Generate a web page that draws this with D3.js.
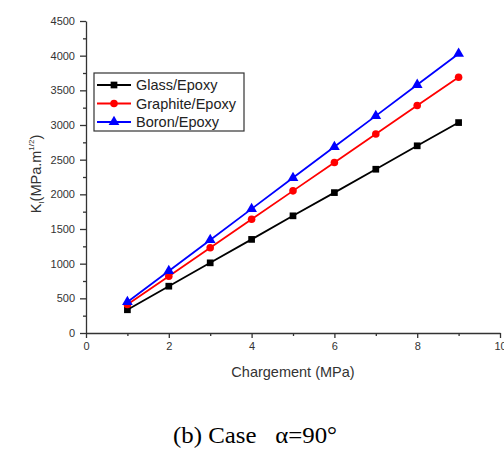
<!DOCTYPE html>
<html>
<head>
<meta charset="utf-8">
<script src="https://cdn.jsdelivr.net/npm/d3@7"></script>
<style>
  body { margin: 0; background: #fff; }
  svg { display: block; }
</style>
</head>
<body>
<svg width="504" height="458"></svg>
<script>
const loads = [1, 2, 3, 4, 5, 6, 7, 8, 9];
const glass = [335, 675, 1012, 1350, 1690, 2025, 2362, 2700, 3035];
const graphite = [410, 820, 1230, 1640, 2050, 2460, 2870, 3280, 3690];
const boron = [448, 895, 1342, 1790, 2238, 2685, 3132, 3580, 4028];
const seriesNames = ["Glass/Epoxy", "Graphite/Epoxy", "Boron/Epoxy"];
const xTicks = [0, 2, 4, 6, 8, 10];
const yTicks = [0, 500, 1000, 1500, 2000, 2500, 3000, 3500, 4000, 4500];

const series = [
  { name: seriesNames[0], values: glass, color: "#000", shape: d3.symbolSquare, size: 45 },
  { name: seriesNames[1], values: graphite, color: "#ff0000", shape: d3.symbolCircle, size: 45 },
  { name: seriesNames[2], values: boron, color: "#0000ff", shape: d3.symbolTriangle, size: 50 }
];

const plotLeft = 86, plotRight = 500, plotTop = 21, plotBottom = 333;
const svg = d3.select("svg");
const font = "'Liberation Sans', Arial, sans-serif";

var x = d3.scaleLinear().domain([0, 10]).range([plotLeft, plotRight]);
var y = d3.scaleLinear().domain([0, 4500]).range([plotBottom, plotTop]);

// minor ticks
svg.append("g")
  .attr("transform", "translate(0," + plotBottom + ")")
  .call(d3.axisBottom(x).tickValues(d3.range(1, 10, 2)).tickSize(3).tickFormat(""))
  .call(g => g.select(".domain").remove());
svg.append("g")
  .attr("transform", "translate(" + plotLeft + ",0)")
  .call(d3.axisLeft(y).tickValues(d3.range(250, 4500, 500)).tickSize(3).tickFormat(""))
  .call(g => g.select(".domain").remove());

// major axes
svg.append("g")
  .attr("transform", "translate(0," + plotBottom + ")")
  .call(d3.axisBottom(x).tickValues(xTicks).tickFormat(d3.format("d")).tickSize(5).tickSizeOuter(0).tickPadding(4));
svg.append("g")
  .attr("transform", "translate(" + plotLeft + ",0)")
  .call(d3.axisLeft(y).tickValues(yTicks).tickFormat(d3.format("d")).tickSize(6).tickSizeOuter(0).tickPadding(5));

svg.selectAll(".tick line, .domain").attr("stroke", "#333").attr("stroke-width", 1.3);
svg.selectAll(".tick text").attr("font-family", font).attr("font-size", 11).attr("fill", "#333");

// axis titles
svg.append("text")
  .attr("x", 293).attr("y", 377)
  .attr("text-anchor", "middle")
  .attr("font-family", font).attr("font-size", 14.5).attr("fill", "#333")
  .text("Chargement (MPa)");

var yl = svg.append("text")
  .attr("transform", "translate(41,174) rotate(-90)")
  .attr("text-anchor", "middle")
  .attr("font-family", font).attr("font-size", 14.5).attr("fill", "#333");
yl.append("tspan").text("K");
yl.append("tspan").attr("font-size", 8).attr("dy", 3).text("I");
yl.append("tspan").attr("dy", -3).text("(MPa.m");
yl.append("tspan").attr("font-size", 8).attr("dy", -7).text("1/2");
yl.append("tspan").attr("dy", 7).text(")");

// lines and markers
var line = d3.line().x((d, i) => x(loads[i])).y(d => y(d));
series.forEach(function(s) {
  svg.append("path")
    .attr("d", line(s.values))
    .attr("fill", "none")
    .attr("stroke", s.color)
    .attr("stroke-width", 1.8);
  svg.selectAll(null)
    .data(s.values)
    .enter().append("path")
    .attr("d", d3.symbol().type(s.shape).size(s.size))
    .attr("transform", (d, i) => "translate(" + x(loads[i]) + "," + y(d) + ")")
    .attr("fill", s.color);
});

// legend
var lg = svg.append("g").attr("transform", "translate(94,73)");
lg.append("rect")
  .attr("width", 150).attr("height", 58)
  .attr("fill", "#fff").attr("stroke", "#333").attr("stroke-width", 1.2);
series.forEach(function(s, i) {
  var yy = 12 + i * 18.5;
  lg.append("line").attr("x1", 3).attr("x2", 37).attr("y1", yy).attr("y2", yy)
    .attr("stroke", s.color).attr("stroke-width", 1.8);
  lg.append("path")
    .attr("d", d3.symbol().type(s.shape).size(s.size))
    .attr("transform", "translate(20," + yy + ")")
    .attr("fill", s.color);
  lg.append("text")
    .attr("x", 42).attr("y", yy + 5)
    .attr("font-family", font).attr("font-size", 14.5).attr("fill", "#222")
    .text(s.name);
});

// caption
svg.append("text")
  .attr("x", 255).attr("y", 443)
  .attr("text-anchor", "middle")
  .attr("font-family", "'Liberation Serif', 'Times New Roman', serif")
  .attr("font-size", 23).attr("fill", "#000")
  .attr("xml:space", "preserve")
  .attr("textLength", 164).attr("lengthAdjust", "spacingAndGlyphs")
  .text("(b) Case   \u03b1=90\u00b0");
</script>
</body>
</html>
